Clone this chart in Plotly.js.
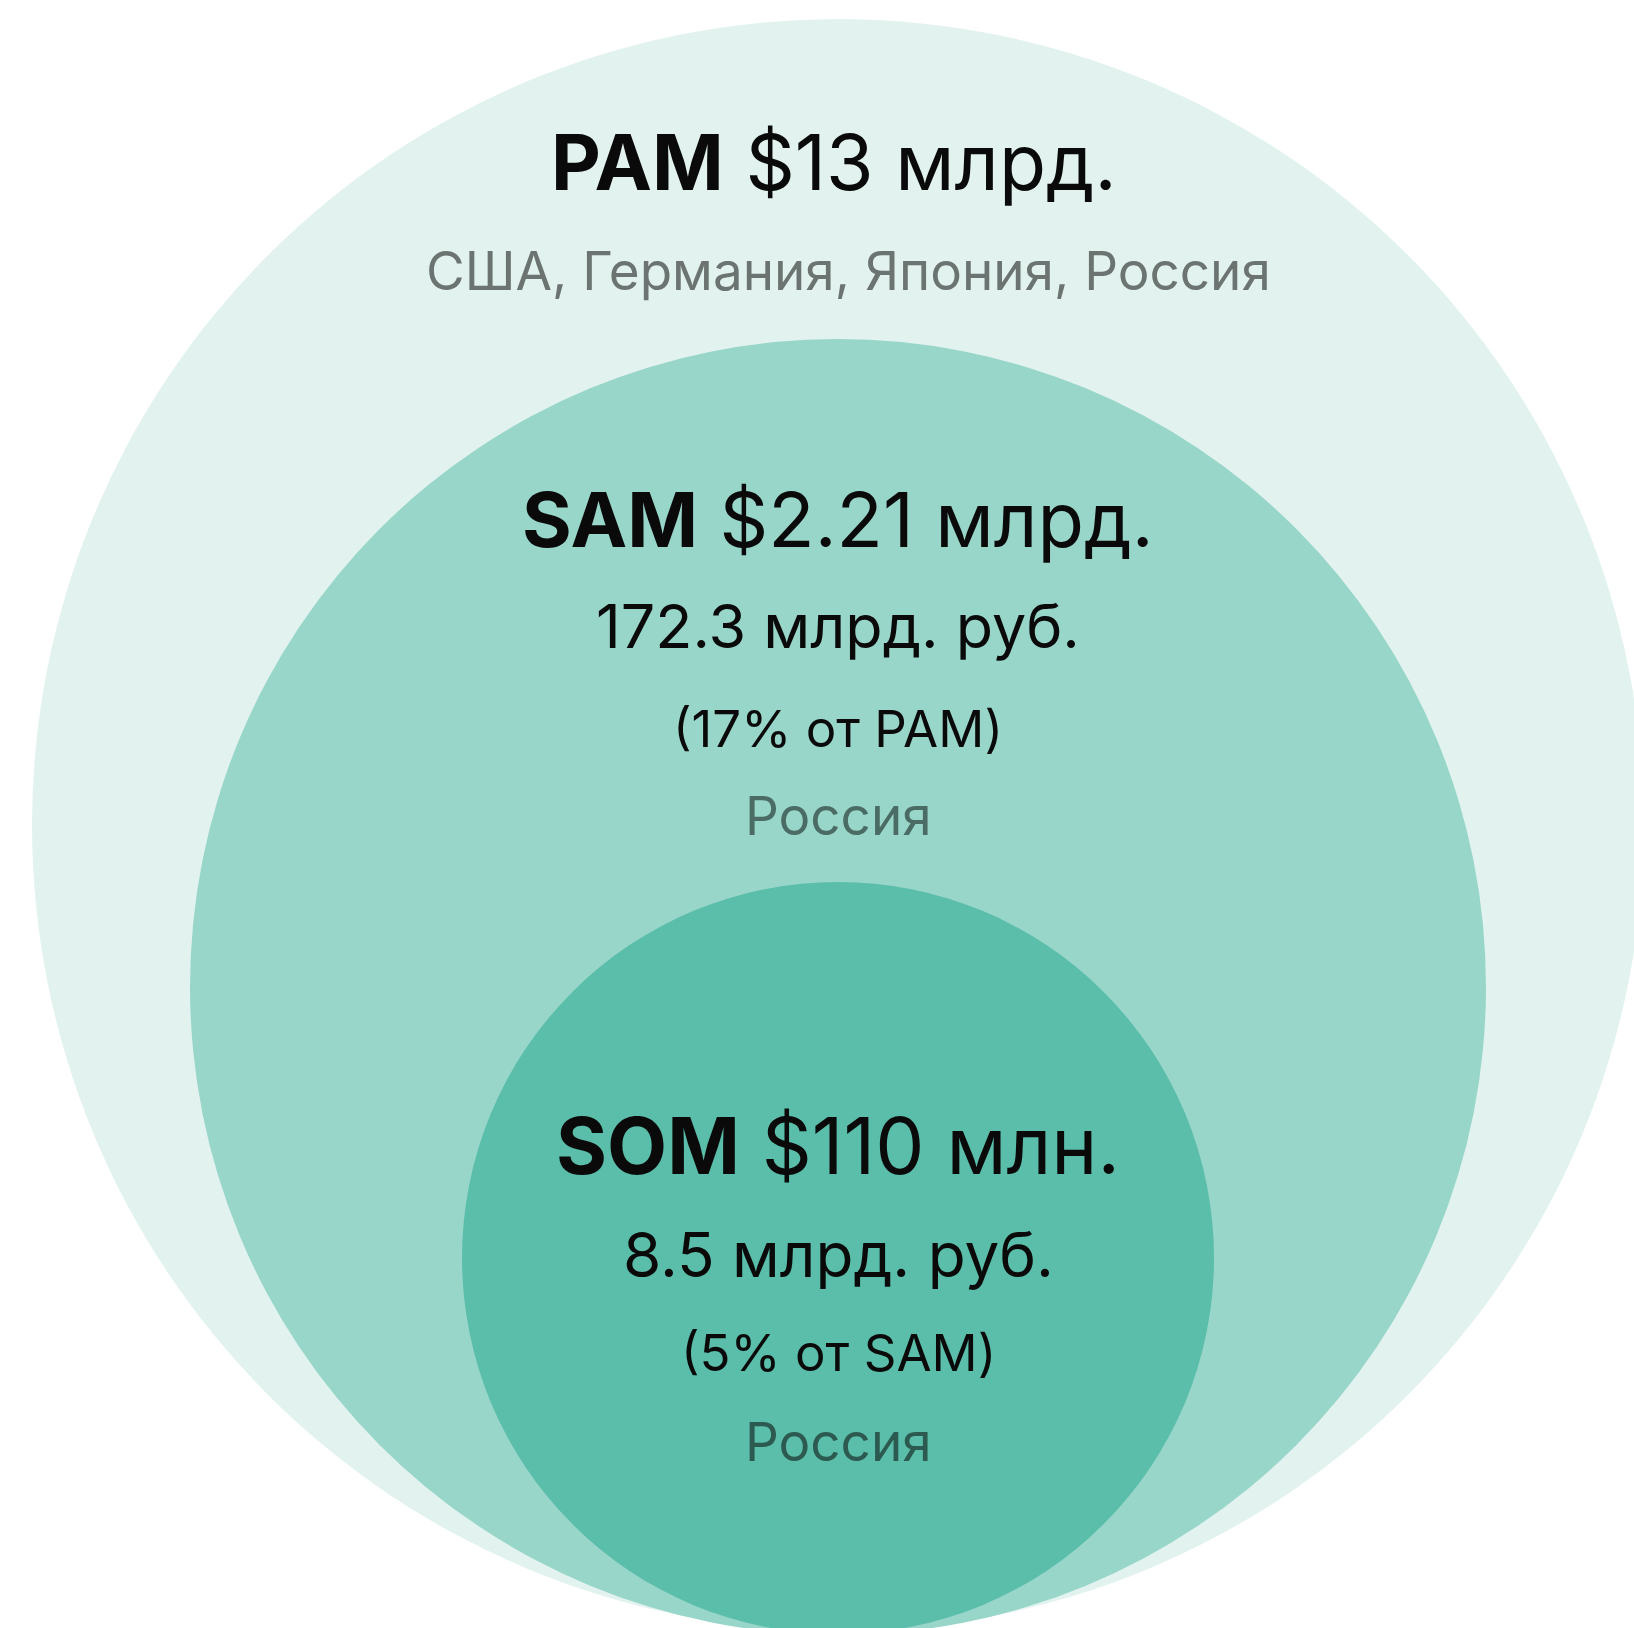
<!DOCTYPE html>
<html>
<head>
<meta charset="utf-8">
<script src="https://cdn.plot.ly/plotly-3.0.1.min.js"></script>
<style>html,body{margin:0;padding:0;background:#fff;}#chart{width:1634px;height:1628px;}</style>
</head>
<body>
<div id="chart"></div>
<script>
// ---- data ----
const tiers = ['PAM', 'SAM', 'SOM'];
const usdValues = ['$13 млрд.', '$2.21 млрд.', '$110 млн.'];
const rubValues = [null, '172.3 млрд. руб.', '8.5 млрд. руб.'];
const shares = [null, '(17% от PAM)', '(5% от SAM)'];
const regions = ['США, Германия, Япония, Россия', 'Россия', 'Россия'];

// ---- layout geometry (pixel-like axis units) ----
const W = 1634, H = 1628;
const geom = [
  {cx: 838, cy: 825, r: 806, fill: '#e2f3ef'},
  {cx: 838, cy: 987, r: 648, fill: '#99d6ca'},
  {cx: 838, cy: 1258, r: 376, fill: '#5abeaa'}
];
const FONT = 'Inter, "Open Sans", sans-serif';

const shapes = geom.map(g => ({
  type: 'circle', xref: 'x', yref: 'y',
  x0: g.cx - g.r, x1: g.cx + g.r, y0: g.cy - g.r, y1: g.cy + g.r,
  fillcolor: g.fill, line: {width: 0}, layer: 'below'
}));

// text rows per tier: [text, y, size, color, xshift]
const rows = [
  [[`<b>${tiers[0]}</b> ${usdValues[0]}`, 162, 77, '#0a0a0a', -4],
   [regions[0], 271, 53, '#6c7471', 10]],
  [[`<b>${tiers[1]}</b> ${usdValues[1]}`, 519, 76, '#0a0a0a', 0],
   [rubValues[1], 626, 61, '#0a0a0a', 0],
   [shares[1], 728, 51, '#0a0a0a', 0],
   [regions[1], 816, 53, '#4b6c65', 0]],
  [[`<b>${tiers[2]}</b> ${usdValues[2]}`, 1145, 78, '#0a0a0a', 0],
   [rubValues[2], 1254, 62, '#0a0a0a', 0],
   [shares[2], 1352, 51, '#0a0a0a', 0],
   [regions[2], 1442, 53, '#2d5a50', 0]]
];

const annotations = [];
rows.forEach((tierRows, i) => {
  tierRows.forEach(([t, y, s, c, dx]) => {
    annotations.push({
      x: geom[i].cx, y: y, xref: 'x', yref: 'y', text: t, showarrow: false,
      xanchor: 'center', yanchor: 'middle', xshift: dx,
      font: {family: FONT, size: s, color: c}
    });
  });
});

const layout = {
  width: W, height: H,
  margin: {l: 0, r: 0, t: 0, b: 0},
  paper_bgcolor: '#ffffff', plot_bgcolor: '#ffffff',
  xaxis: {range: [0, W], visible: false, fixedrange: true},
  yaxis: {range: [H, 0], visible: false, fixedrange: true},
  shapes: shapes,
  annotations: annotations,
  showlegend: false
};

Plotly.newPlot('chart', [{x: [], y: [], type: 'scatter', hoverinfo: 'skip'}], layout, {displayModeBar: false, staticPlot: true});
</script>
</body>
</html>
